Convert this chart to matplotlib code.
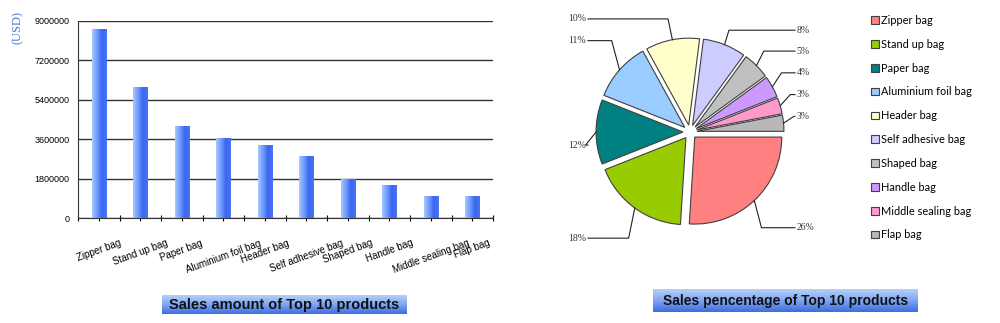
import numpy as np
import matplotlib
matplotlib.use("Agg")
from matplotlib import pyplot as plt
from matplotlib.colors import LinearSegmentedColormap

# data
products = ["Zipper bag", "Stand up bag", "Paper bag", "Aluminium foil bag", "Header bag",
            "Self adhesive bag", "Shaped bag", "Handle bag", "Middle sealing bag", "Flap bag"]
sales = [8630000, 5970000, 4200000, 3640000, 3290000, 2790000, 1750000, 1480000, 960000, 960000]
yticks = [0, 1800000, 3600000, 5400000, 7200000, 9000000]
percent = [26, 18, 12, 11, 10, 8, 5, 4, 3, 3]
pie_colors = ["#ff8080", "#99cc00", "#008080", "#99ccff", "#ffffcc",
              "#ccccff", "#c0c0c0", "#cc99ff", "#ff99cc", "#b8b8b8"]

W, H = 1000, 323
fig = plt.figure(figsize=(W / 100, H / 100), dpi=100)
plt.rcParams['font.family'] = ['Liberation Sans', 'DejaVu Sans']


def px(x0, y0, x1, y1):
    # pixel box (top-left origin) -> figure fraction rect
    return [x0 / W, 1 - y1 / H, (x1 - x0) / W, (y1 - y0) / H]


# ---- bar chart ----
ax = fig.add_axes(px(78, 21, 493, 218))
x = np.arange(len(products))
bars = ax.bar(x, sales, width=0.34, color="none", zorder=3)
bar_cmap = LinearSegmentedColormap.from_list("b", ["#a8c8ff", "#6f9cff", "#3a66f2", "#4a74f5"])
grad = np.linspace(0, 1, 64).reshape(1, -1)
for b in bars:
    x0, w, h = b.get_x(), b.get_width(), b.get_height()
    ax.imshow(grad, extent=[x0, x0 + w, 0, h], aspect="auto", cmap=bar_cmap, zorder=3)
ax.set_xlim(-0.5, len(products) - 0.5)
ax.set_ylim(0, 9000000)
ax.set_yticks(yticks)
ax.set_yticklabels([str(v) for v in yticks], fontsize=6.5)
ax.set_xticks(x)
ax.set_xticklabels(products, rotation=20, fontsize=7)
ax.set_xticks(np.arange(len(products) + 1) - 0.5, minor=True)
ax.tick_params(axis="x", which="both", direction="inout", length=5, width=0.8)
ax.tick_params(axis="x", which="major", pad=12)
ax.tick_params(axis="y", length=0, pad=6)
ax.grid(axis="y", color="#333333", linewidth=1)
ax.set_axisbelow(True)
for s in ["top", "right"]:
    ax.spines[s].set_visible(False)
ax.spines["left"].set_color("#333333")
ax.spines["bottom"].set_color("#333333")
fig.text(18 / W, 1 - 27 / H, "(USD)", rotation=90, color="#4a7bd8", fontsize=9,
         family="Liberation Serif", ha="center", va="center")

# ---- pie chart ----
r = 87.0
cx, cy = 690, 132
pax = fig.add_axes(px(540, 0, 840, 262))
wedges, _ = pax.pie(percent, colors=pie_colors, startangle=0, counterclock=False,
                    explode=[0.08] * len(percent),
                    wedgeprops=dict(edgecolor="#404040", linewidth=0.8))
pax.set_aspect("auto")
pax.set_xlim((540 - cx) / r, (840 - cx) / r)
pax.set_ylim(-(262 - cy) / r, cy / r)

# label rows (layout): vertical position in radius units
label_y = [-1.1, -1.22, -0.15, 1.05, 1.3, 1.17, 0.93, 0.68, 0.43, 0.18]
for wdg, p, ly in zip(wedges, percent, label_y):
    mid = np.deg2rad((wdg.theta1 + wdg.theta2) / 2)
    ox, oy = 0.08 * np.cos(mid), 0.08 * np.sin(mid)
    px0, py0 = ox + np.cos(mid), oy + np.sin(mid)
    right = np.cos(mid) > 0
    ex = px0 + 0.12 * np.cos(mid)
    ex = max(ex, px0 + 0.05) if right else min(ex, px0 - 0.05)
    lx = (795 - cx) / r if right else (588 - cx) / r
    pax.plot([px0, ex, lx], [py0, ly, ly], color="#222222", lw=0.8, clip_on=False)
    pax.text(lx + (0.02 if right else -0.02), ly, f"{p}%", fontsize=7,
             family="Liberation Serif", color="#333333",
             ha="left" if right else "right", va="center")

leg = fig.legend(wedges, products, loc="upper left", bbox_to_anchor=(861 / W, 1 - 5 / H),
                 frameon=False, handlelength=0.7, handleheight=0.7,
                 handletextpad=0.25, labelspacing=1.17, prop={"family": "Lato", "size": 7.9})


# ---- title boxes ----
def title_box(x0, y0, x1, y1, text, size):
    tax = fig.add_axes(px(x0, y0, x1, y1))
    cm = LinearSegmentedColormap.from_list("t", ["#b4cff8", "#7ea6f2", "#3d6ee0"])
    v = np.linspace(0, 1, 32).reshape(-1, 1)
    tax.imshow(v, extent=[0, 1, 0, 1], aspect="auto", cmap=cm)
    tax.text(0.5, 0.5, text, ha="center", va="center", fontsize=size,
             fontweight="bold", color="#111111", transform=tax.transAxes)
    tax.set_axis_off()


title_box(162, 295, 407, 314, "Sales amount of Top 10 products", 10.5)
title_box(653, 289, 918, 312, "Sales pencentage of Top 10 products", 10)

fig.savefig("out.png", dpi=100)
